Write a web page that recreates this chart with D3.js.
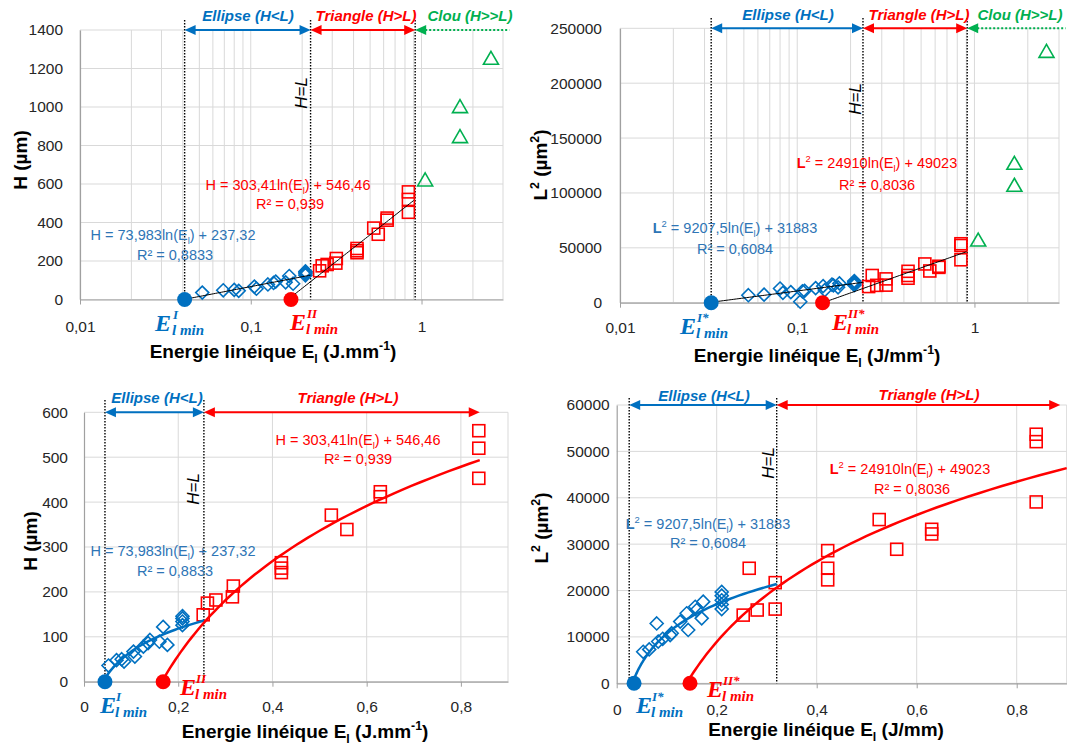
<!DOCTYPE html>
<html><head><meta charset="utf-8">
<script src="https://cdn.jsdelivr.net/npm/d3@7"></script>
<style>
body{margin:0;background:#fff}
svg{display:block}
</style>
</head><body>
<svg id="c" width="1067" height="747"></svg>
<script>
// ---------------- DATA ----------------
const ellipseE  = [0.052, 0.069, 0.080, 0.085, 0.105, 0.108, 0.126, 0.136, 0.140, 0.160, 0.168, 0.177, 0.209, 0.209, 0.209, 0.209];
const ellipseH  = [36, 48, 50, 45, 67, 56, 78, 86, 93, 89, 122, 82, 141, 134, 126, 146];
const triangleE = [0.253, 0.262, 0.280, 0.315, 0.317, 0.419, 0.419, 0.419, 0.525, 0.558, 0.629, 0.629, 0.838, 0.838, 0.838];
const triangleH = [149, 175, 182, 189, 213, 265, 253, 243, 371, 339, 423, 412, 559, 520, 453];
const clouE     = [1.05, 1.68, 1.68, 2.55];
const clouH     = [621, 846, 1002, 1253];

const ellipseE2  = [0.053, 0.065, 0.080, 0.083, 0.092, 0.107, 0.110, 0.127, 0.140, 0.143, 0.157, 0.160, 0.170, 0.173, 0.210, 0.210, 0.210, 0.210, 0.210];
const ellipseL2  = [6800, 7300, 12900, 9000, 9600, 10400, 10800, 13300, 15100, 11500, 16500, 15800, 14000, 17600, 19700, 18900, 17900, 17000, 16000];
const ellipseExtraE  = [0.104];
const ellipseExtraL2 = [900];
const triangleE2 = [0.253, 0.265, 0.281, 0.317, 0.317, 0.422, 0.422, 0.422, 0.525, 0.560, 0.630, 0.630, 0.839, 0.839, 0.839];
const triangleL2 = [14700, 24800, 15800, 21700, 16000, 28600, 24800, 22300, 35300, 28900, 33200, 32200, 53700, 52100, 39100];
const clouL2     = [57100, 107000, 127000, 229000];

// fits  y = a ln(E) + b
const fitH1 = [73.983, 237.32], fitH2 = [303.41, 546.46];
const fitL1 = [9207.5, 31883],  fitL2 = [24910, 49023];

// tick labels
const logTicks = [0.01, 0.1, 1], logTickLabels = ["0,01", "0,1", "1"];
const linTicks = [0, 0.2, 0.4, 0.6, 0.8], linTickLabels = ["0", "0,2", "0,4", "0,6", "0,8"];
const yTicksH  = [0, 200, 400, 600, 800, 1000, 1200, 1400];
const yTicksL  = [0, 50000, 100000, 150000, 200000, 250000];
const yTicksH2 = [0, 100, 200, 300, 400, 500, 600];
const yTicksL2 = [0, 10000, 20000, 30000, 40000, 50000, 60000];
const logMinor = [0.02,0.03,0.04,0.05,0.06,0.07,0.08,0.09,0.2,0.3,0.4,0.5,0.6,0.7,0.8,0.9,2,3];

// regime boundaries (E values)
const boundTL = [0.041, 0.224, 0.918], emTL = [0.041, 0.172];
const boundTR = [0.0327, 0.235, 0.91], emTR = [0.0327, 0.139];
const boundBL = [0.0445, 0.2545],      emBL = [0.0445, 0.168];
const boundBR = [0.025, 0.32],         emBR = [0.0347, 0.1466];

// ---------------- DRAW ----------------
const SANS = "'Liberation Sans', Arial, sans-serif";
const SERIF = "'Liberation Serif', 'Times New Roman', serif";
const BLUE = "#0070C0", RED = "#FF0000", GREEN = "#00B050", EQBLUE = "#2E75B6";
const GRID = "#D9D9D9", AXIS = "#A0A0A0";
const svg = d3.select("#c");

function rich(t, parts, fs) {
  let off = 0;
  parts.forEach(p => {
    const [s, k] = p;
    const ts = t.append("tspan").text(s);
    let target = 0;
    if (k === "sub") { target = fs * 0.25; ts.attr("font-size", fs * 0.65); }
    else if (k === "sup") { target = -fs * 0.4; ts.attr("font-size", fs * 0.65); }
    else if (k === "b") { ts.attr("font-weight", "bold"); }
    if (target - off !== 0) ts.attr("dy", target - off);
    off = target;
  });
}

function arrowHead(g, x, y, dir, color) {
  const L = 11, w = 5;
  g.append("path").attr("d", `M${x},${y}L${x - dir * L},${y - w}L${x - dir * L},${y + w}Z`).attr("fill", color);
}
function arrow(g, xa, xb, y, color, dotted, headLeft, headRight) {
  const L = 10;
  g.append("line").attr("x1", xa + (headLeft ? L : 0)).attr("x2", xb - (headRight ? L : 0))
    .attr("y1", y).attr("y2", y).attr("stroke", color).attr("stroke-width", 2)
    .attr("stroke-dasharray", dotted ? "2,2" : null);
  if (headLeft) arrowHead(g, xa, y, -1, color);
  if (headRight) arrowHead(g, xb, y, 1, color);
}

// E min label: big E with stacked superscript / subscript
function eLabel(g, x, y, sup, color, supDx) {
  const t = g.append("text").attr("fill", color).attr("font-family", SERIF).attr("font-weight", "bold")
    .attr("font-style", "italic").attr("x", x).attr("y", y);
  t.append("tspan").attr("font-size", 24).text("E");
  t.append("tspan").attr("x", x + supDx).attr("y", y - 12).attr("font-size", 13).text(sup);
  t.append("tspan").attr("x", x + supDx - 1).attr("y", y + 4).attr("font-size", 15).text("l min");
}

function diamondPath(s) { return `M0,${-s}L${s},0L0,${s}L${-s},0Z`; }
function triPath() { return "M0,-7L7.5,6L-7.5,6Z"; }

function panel(o) {
  const g = svg.append("g");
  const x = (o.log ? d3.scaleLog() : d3.scaleLinear()).domain(o.xDom).range([o.x0, o.x1]);
  const y = d3.scaleLinear().domain(o.yDom).range([o.y1, o.y0]);

  // gridlines
  g.append("g").selectAll("line").data(o.yTicks).join("line")
    .attr("x1", o.x0).attr("x2", o.x1).attr("y1", d => y(d)).attr("y2", d => y(d))
    .attr("stroke", GRID).attr("stroke-width", 1);
  g.append("g").selectAll("line").data(o.xGrid).join("line")
    .attr("x1", d => x(d)).attr("x2", d => x(d)).attr("y1", o.y0).attr("y2", o.y1)
    .attr("stroke", GRID).attr("stroke-width", 1);

  // axes
  const ya = g.append("g").attr("transform", `translate(${o.x0},0)`)
    .call(d3.axisLeft(y).tickValues(o.yTicks).tickFormat(d => String(d)).tickSize(0).tickSizeOuter(0).tickPadding(o.yPad));
  ya.select(".domain").attr("stroke", AXIS).attr("stroke-width", 1.2);
  ya.selectAll("text").attr("font-family", SANS).attr("font-size", 15.5).attr("fill", "#262626");

  const xa = g.append("g").attr("transform", `translate(0,${o.y1})`)
    .call(d3.axisBottom(x).tickValues(o.xTicks).tickFormat((d, i) => o.xLabels[i]).tickSize(5).tickSizeOuter(0));
  xa.select(".domain").attr("stroke", AXIS).attr("stroke-width", 1.2);
  xa.selectAll(".tick line").attr("stroke", AXIS);
  xa.selectAll("text").attr("font-family", SANS).attr("font-size", 15.5).attr("fill", "#262626")
    .attr("y", o.xLabOff).attr("dy", 0);

  // boundaries (dotted)
  g.append("g").selectAll("line").data(o.bounds).join("line")
    .attr("x1", d => x(d)).attr("x2", d => x(d)).attr("y1", o.dotTop).attr("y2", o.y1)
    .attr("stroke", "#000").attr("stroke-width", 1.4).attr("stroke-dasharray", "1.5,1.5");

  // region arrows
  const ay = o.y0;
  arrow(g, x(o.bounds[0]), x(o.bounds[1]), ay, BLUE, false, true, true);
  if (o.bounds.length === 3) {
    arrow(g, x(o.bounds[1]), x(o.bounds[2]), ay, RED, false, true, true);
    arrow(g, x(o.bounds[2]), x(o.greenEnd), ay, GREEN, true, true, false);
  } else {
    arrow(g, x(o.bounds[1]), x(o.redEnd), ay, RED, false, true, true);
  }
  const rl = g.append("g").attr("font-family", SANS).attr("font-weight", "bold").attr("font-style", "italic")
    .attr("font-size", 15).attr("text-anchor", "middle");
  o.regions.forEach(r => rl.append("text").attr("x", r[0]).attr("y", r[1]).attr("fill", r[3]).text(r[2]));

  // H=L
  g.append("text").attr("transform", `translate(${o.hl[0]},${o.hl[1]}) rotate(-90)`)
    .attr("text-anchor", "middle").attr("font-family", SANS).attr("font-style", "italic")
    .attr("font-size", 17).attr("fill", "#000").text("H=L");

  // markers
  const mk = g.append("g").attr("fill", "none").attr("stroke-width", 1.6);
  const eDia = o.ellE.map((e, i) => [e, o.ellV[i]]);
  mk.selectAll("path.d").data(eDia).join("path").attr("class", "d")
    .attr("transform", d => `translate(${x(d[0])},${y(d[1])})`).attr("d", diamondPath(6.5)).attr("stroke", BLUE);
  const tSq = o.triE.map((e, i) => [e, o.triV[i]]);
  mk.selectAll("rect").data(tSq).join("rect")
    .attr("x", d => x(d[0]) - 6).attr("y", d => y(d[1]) - 6).attr("width", 12).attr("height", 12).attr("stroke", RED);
  if (o.clE) {
    const cT = o.clE.map((e, i) => [e, o.clV[i]]);
    mk.selectAll("path.t").data(cT).join("path").attr("class", "t")
      .attr("transform", d => `translate(${x(d[0])},${y(d[1])})`).attr("d", triPath()).attr("stroke", GREEN);
  }

  // fit curves (drawn from the fit's zero up to end)
  function curve(fit, e1, color, w) {
    const start = Math.exp(-fit[1] / fit[0]);
    const n = 60;
    const pts = d3.range(n + 1).map(i => Math.exp(Math.log(start) + (Math.log(e1) - Math.log(start)) * i / n));
    g.append("path").datum(pts)
      .attr("d", d3.line().x(e => x(e)).y(e => y(fit[0] * Math.log(e) + fit[1])))
      .attr("fill", "none").attr("stroke", color).attr("stroke-width", w);
  }
  curve(o.fit1, o.fit1End, o.curveC1, o.curveW);
  curve(o.fit2, o.fit2End, o.curveC2, o.curveW);

  // E min dots
  g.append("circle").attr("cx", x(o.em[0])).attr("cy", y(0)).attr("r", 7.5).attr("fill", BLUE);
  g.append("circle").attr("cx", x(o.em[1])).attr("cy", y(0)).attr("r", 7.5).attr("fill", RED);

  // equations
  const eq = g.append("g").attr("font-family", SANS).attr("font-size", 14.5).attr("text-anchor", "middle");
  o.eqs.forEach(q => {
    const t = eq.append("text").attr("x", q[0]).attr("y", q[1]).attr("fill", q[3]);
    rich(t, q[2], 14.5);
  });

  // E min labels
  o.elabels.forEach(l => eLabel(g, ...l));

  // axis titles
  const xt = g.append("text").attr("x", o.xt[0]).attr("y", o.xt[1]).attr("text-anchor", "middle")
    .attr("font-family", SANS).attr("font-weight", "bold").attr("font-size", 19).attr("fill", "#000");
  rich(xt, o.xtParts, 19);
  const yt = g.append("text").attr("transform", `translate(${o.yt[0]},${o.yt[1]}) rotate(-90)`)
    .attr("text-anchor", "middle").attr("font-family", SANS).attr("font-weight", "bold").attr("font-size", 19).attr("fill", "#000");
  rich(yt, o.ytParts, 19);
}

const eqH1 = [["H = 73,983ln(E"], ["l", "sub"], [") + 237,32"]];
const eqH2 = [["H = 303,41ln(E"], ["l", "sub"], [") + 546,46"]];
const eqL1 = [["L", "b"], ["2", "sup"], [" = 9207,5ln(E"], ["l", "sub"], [") + 31883"]];
const eqL2 = [["L", "b"], ["2", "sup"], [" = 24910ln(E"], ["l", "sub"], [") + 49023"]];

// Top-left
panel({
  log: true, xDom: [0.01, 3], yDom: [0, 1400], x0: 80, x1: 503, y0: 30, y1: 299.5,
  yTicks: yTicksH, yPad: 17, xTicks: logTicks, xLabels: logTickLabels, xGrid: logTicks.concat(logMinor), xLabOff: 32.5,
  bounds: boundTL, greenEnd: 3.27, dotTop: 20,
  regions: [[248, 21, "Ellipse (H<L)", BLUE], [366, 21, "Triangle (H>L)", RED], [470, 21, "Clou (H>>L)", GREEN]],
  hl: [307, 93],
  ellE: ellipseE, ellV: ellipseH, triE: triangleE, triV: triangleH, clE: clouE, clV: clouH,
  fit1: fitH1, fit1End: 0.224, fit2: fitH2, fit2End: 0.9, curveC1: "#000", curveC2: "#000", curveW: 1,
  em: emTL,
  eqs: [[173, 240, eqH1, EQBLUE], [175, 260, [["R² = 0,8833"]], EQBLUE],
        [288, 190, eqH2, RED], [290, 209, [["R² = 0,939"]], RED]],
  elabels: [[155, 331, "I", BLUE, 18], [290, 330, "II", RED, 17]],
  xt: [273, 358], xtParts: [["Energie linéique E"], ["l", "sub"], [" (J.mm"], ["-1", "sup"], [")"]],
  yt: [27, 160], ytParts: [["H (µm)"]]
});

// Top-right
panel({
  log: true, xDom: [0.01, 3], yDom: [0, 250000], x0: 620, x1: 1059, y0: 28.3, y1: 302.7,
  yTicks: yTicksL, yPad: 18, xTicks: logTicks, xLabels: logTickLabels, xGrid: logTicks.concat(logMinor), xLabOff: 30.5,
  bounds: boundTR, greenEnd: 3.27, dotTop: 18,
  regions: [[788, 20, "Ellipse (H<L)", BLUE], [919, 20, "Triangle (H>L)", RED], [1020, 20, "Clou (H>>L)", GREEN]],
  hl: [861, 99],
  ellE: ellipseE2.concat(ellipseExtraE), ellV: ellipseL2.concat(ellipseExtraL2), triE: triangleE2, triV: triangleL2, clE: clouE, clV: clouL2,
  fit1: fitL1, fit1End: 0.235, fit2: fitL2, fit2End: 0.9, curveC1: "#000", curveC2: "#000", curveW: 1,
  em: emTR,
  eqs: [[735, 233, eqL1, EQBLUE], [735, 254, [["R² = 0,6084"]], EQBLUE],
        [877, 168, eqL2, RED], [877, 190, [["R² = 0,8036"]], RED]],
  elabels: [[680, 334, "I*", BLUE, 17], [832, 330, "II*", RED, 16]],
  xt: [817, 362], xtParts: [["Energie linéique E"], ["l", "sub"], [" (J/mm"], ["-1", "sup"], [")"]],
  yt: [547, 165], ytParts: [["L"], ["2", "sup"], [" (µm"], ["2", "sup"], [")"]]
});

// Bottom-left
panel({
  log: false, xDom: [0, 0.9], yDom: [0, 600], x0: 84, x1: 508, y0: 412.3, y1: 681.7,
  yTicks: yTicksH2, yPad: 16, xTicks: linTicks, xLabels: linTickLabels, xGrid: [0.2, 0.4, 0.6, 0.8, 0.9], xLabOff: 30.5,
  bounds: boundBL, redEnd: 0.84, dotTop: 400,
  regions: [[157, 403, "Ellipse (H<L)", BLUE], [348, 403, "Triangle (H>L)", RED]],
  hl: [199, 489],
  ellE: ellipseE, ellV: ellipseH, triE: triangleE, triV: triangleH,
  fit1: fitH1, fit1End: 0.255, fit2: fitH2, fit2End: 0.84, curveC1: BLUE, curveC2: RED, curveW: 2.5,
  em: emBL,
  eqs: [[173, 556, eqH1, EQBLUE], [175, 576, [["R² = 0,8833"]], EQBLUE],
        [358, 445, eqH2, RED], [358, 464, [["R² = 0,939"]], RED]],
  elabels: [[100, 713, "I", BLUE, 16], [180, 695, "II", RED, 16]],
  xt: [305, 738], xtParts: [["Energie linéique E"], ["l", "sub"], [" (J.mm"], ["-1", "sup"], [")"]],
  yt: [37, 541], ytParts: [["H (µm)"]]
});

// Bottom-right
panel({
  log: false, xDom: [0, 0.9], yDom: [0, 60000], x0: 616.7, x1: 1066.7, y0: 405, y1: 683.3,
  yTicks: yTicksL2, yPad: 7, xTicks: linTicks, xLabels: linTickLabels, xGrid: [0.2, 0.4, 0.6, 0.8, 0.9], xLabOff: 31.7,
  bounds: boundBR, redEnd: 0.887, dotTop: 398,
  regions: [[704, 401, "Ellipse (H<L)", BLUE], [929, 400, "Triangle (H>L)", RED]],
  hl: [774, 463],
  ellE: ellipseE2, ellV: ellipseL2, triE: triangleE2, triV: triangleL2,
  fit1: fitL1, fit1End: 0.32, fit2: fitL2, fit2End: 0.9, curveC1: BLUE, curveC2: RED, curveW: 2.5,
  em: emBR,
  eqs: [[708, 529, eqL1, EQBLUE], [708, 548, [["R² = 0,6084"]], EQBLUE],
        [910, 474, eqL2, RED], [912, 494, [["R² = 0,8036"]], RED]],
  elabels: [[636, 713, "I*", BLUE, 16], [707, 697, "II*", RED, 16]],
  xt: [826, 736], xtParts: [["Energie linéique E"], ["l", "sub"], [" (J/mm)"]],
  yt: [548, 528], ytParts: [["L"], ["2", "sup"], [" (µm"], ["2", "sup"], [")"]]
});
</script>
</body></html>
